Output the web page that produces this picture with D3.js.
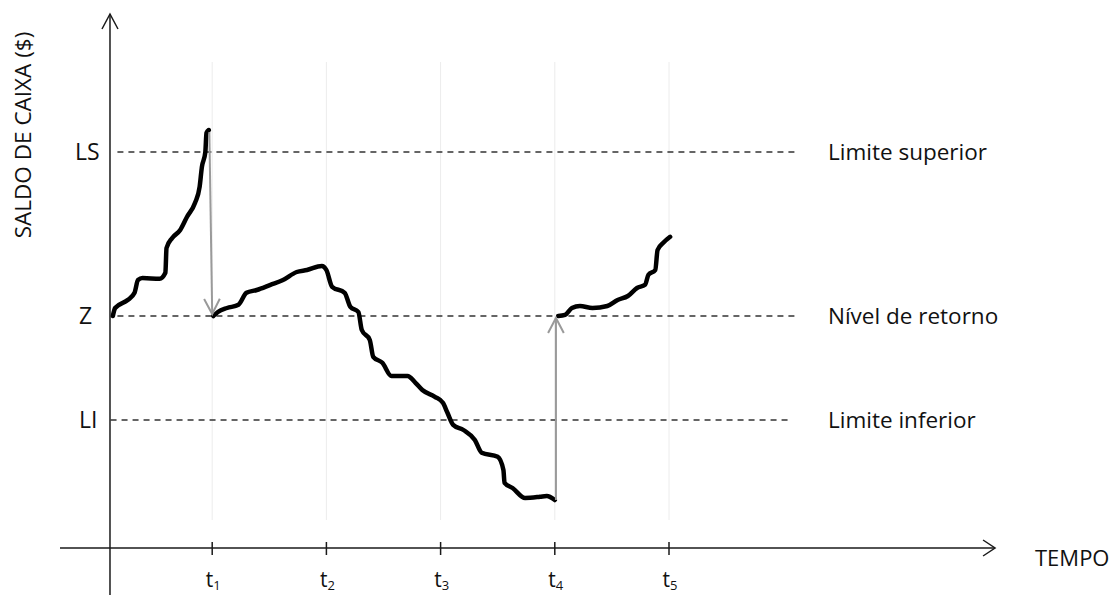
<!DOCTYPE html>
<html lang="pt">
<head>
  <meta charset="UTF-8">
  <title>Modelo Miller-Orr</title>
  <script src="https://d3js.org/d3.v7.min.js"></script>
  <style>
    body { margin: 0; background: #fff; }
    text { font-family: "Open Sans", sans-serif; fill: #111; }
    .axis { stroke: #1a1a1a; stroke-width: 1.5px; fill: none; }
    .grid { stroke: #ececec; stroke-width: 1px; }
    .level { stroke: #333; stroke-width: 1.6px; stroke-dasharray: 6,5; }
    .saldo { fill: none; stroke: #000; stroke-width: 4.5px; stroke-linejoin: round; stroke-linecap: round; }
    .reset { fill: none; stroke: #9a9a9a; stroke-width: 2px; }
  </style>
</head>
<body>

<svg width="1113" height="595"></svg>

<script>
  // time ticks t1..t5
  const tickIdx = [1, 2, 3, 4, 5];

  // control levels
  const levelCodes = ["LS", "Z", "LI"];
  const levelNames = ["Limite superior", "Nível de retorno", "Limite inferior"];
  const levelValues = [99, 58, 32];

  // cash balance path, [t, saldo], three pieces split by the resets
  const seg1 = [[0.13, 58], [0.15, 60], [0.26, 62], [0.32, 63.8], [0.35, 67], [0.39, 67.5],
    [0.54, 67.3], [0.59, 68.8], [0.6, 75], [0.65, 77.5], [0.72, 79.5], [0.78, 82.8],
    [0.85, 86.3], [0.89, 90.3], [0.91, 95.3], [0.94, 99], [0.95, 103.8], [0.97, 104.5]];
  const seg2 = [[1.01, 58], [1.05, 59], [1.13, 60], [1.23, 60.8], [1.3, 63.8], [1.39, 64.5],
    [1.51, 65.8], [1.62, 67], [1.74, 69], [1.83, 69.5], [1.96, 70.5], [2.0, 69.5],
    [2.05, 65.3], [2.16, 63.8], [2.21, 60.3], [2.28, 59], [2.31, 54.5], [2.38, 52],
    [2.41, 47.8], [2.49, 46.3], [2.57, 43], [2.71, 43], [2.78, 41.3], [2.84, 39.5],
    [2.95, 37.8], [3.02, 36.3], [3.06, 33.8], [3.11, 30.8], [3.2, 29.5], [3.3, 27],
    [3.36, 23.8], [3.5, 22.8], [3.55, 19.5], [3.56, 16.3], [3.63, 15], [3.74, 12.5],
    [3.87, 12.8], [3.93, 13], [4.0, 12]];
  const seg3 = [[4.03, 58], [4.09, 58.3], [4.15, 60], [4.22, 60.5], [4.33, 60], [4.46, 60.5],
    [4.55, 62], [4.64, 63], [4.72, 65], [4.79, 65.8], [4.82, 68.3], [4.88, 69.5],
    [4.9, 74.5], [4.95, 76.3], [5.01, 77.8]];

  // resets: from [t, saldo] to [t, saldo]
  const resets = [
    [[0.975, 104], [1.0, 58.5]],
    [[4.01, 12], [4.01, 57.5]]
  ];

  const svg = d3.select("svg");

  const x = d3.scaleLinear().domain([0, 5]).range([98, 669]);
  const y = d3.scaleLinear().domain([0, 133]).range([548, 16]);

  const x0 = x(0.105);  // vertical axis position

  // light vertical guides
  svg.selectAll(".grid")
    .data(tickIdx)
    .enter().append("line")
    .attr("class", "grid")
    .attr("x1", d => x(d)).attr("x2", d => x(d))
    .attr("y1", y(121.5)).attr("y2", y(7));

  // dashed levels
  const lvlStart = [0.17, 0.17, 0.11];
  const lvlEnd = [6.12, 6.12, 6.06];
  svg.selectAll(".level")
    .data(levelValues)
    .enter().append("line")
    .attr("class", "level")
    .attr("x1", (d, i) => x(lvlStart[i]))
    .attr("x2", (d, i) => x(lvlEnd[i]))
    .attr("y1", d => y(d)).attr("y2", d => y(d));

  // level labels left and right
  const codeX = [75, 79, 79];
  svg.selectAll(".code")
    .data(levelValues)
    .enter().append("text")
    .attr("class", "code")
    .attr("x", (d, i) => codeX[i])
    .attr("y", d => y(d) + 8)
    .style("font-size", "23px")
    .text((d, i) => levelCodes[i]);

  svg.selectAll(".name")
    .data(levelValues)
    .enter().append("text")
    .attr("class", "name")
    .attr("x", 828)
    .attr("y", d => y(d) + 8)
    .style("font-size", "22.5px")
    .text((d, i) => levelNames[i]);

  // axes
  svg.append("line").attr("class", "axis")
    .attr("x1", x0).attr("x2", x0)
    .attr("y1", y(133.5)).attr("y2", 595);
  svg.append("path").attr("class", "axis")
    .attr("d", `M${x0 - 8},${y(133.5) + 15}L${x0},${y(133.5)}L${x0 + 8},${y(133.5) + 15}`);

  const xEnd = x(7.855);
  svg.append("line").attr("class", "axis")
    .attr("x1", x(-0.333)).attr("x2", xEnd)
    .attr("y1", y(0)).attr("y2", y(0));
  svg.append("path").attr("class", "axis")
    .attr("d", `M${xEnd - 12},${y(0) - 8}L${xEnd},${y(0)}L${xEnd - 12},${y(0) + 8}`);

  svg.selectAll(".tick")
    .data(tickIdx)
    .enter().append("line")
    .attr("class", "axis tick")
    .attr("x1", d => x(d)).attr("x2", d => x(d))
    .attr("y1", y(0) - 6).attr("y2", y(0) + 7);

  const tl = svg.selectAll(".tlabel")
    .data(tickIdx)
    .enter().append("text")
    .attr("class", "tlabel")
    .attr("x", d => x(d) + 1)
    .attr("y", 587)
    .attr("text-anchor", "middle")
    .style("font-size", "21px");
  tl.append("tspan").text("t");
  tl.append("tspan").attr("dy", 3).style("font-size", "13px").text(d => d);

  svg.append("text")
    .attr("x", 1035).attr("y", 566)
    .style("font-size", "22px")
    .text("TEMPO");

  svg.append("text")
    .attr("transform", `translate(31,135) rotate(-90)`)
    .attr("text-anchor", "middle")
    .style("font-size", "22.5px")
    .text("SALDO DE CAIXA ($)");

  // cash balance path
  const line = d3.line()
    .x(d => x(d[0]))
    .y(d => y(d[1]))
    .curve(d3.curveMonotoneX);

  svg.selectAll(".saldo")
    .data([seg1, seg2, seg3])
    .enter().append("path")
    .attr("class", "saldo")
    .attr("d", line);

  // reset arrows
  resets.forEach(([a, b]) => {
    const x1 = x(a[0]), y1 = y(a[1]), x2 = x(b[0]), y2 = y(b[1]);
    const ang = Math.atan2(y2 - y1, x2 - x1);
    const len = 17, spread = 0.48;
    const p1 = [x2 - len * Math.cos(ang - spread), y2 - len * Math.sin(ang - spread)];
    const p2 = [x2 - len * Math.cos(ang + spread), y2 - len * Math.sin(ang + spread)];
    svg.append("line").attr("class", "reset")
      .attr("x1", x1).attr("y1", y1).attr("x2", x2).attr("y2", y2);
    svg.append("path").attr("class", "reset")
      .attr("d", `M${p1[0]},${p1[1]}L${x2},${y2}L${p2[0]},${p2[1]}`);
  });
</script>

</body>
</html>
